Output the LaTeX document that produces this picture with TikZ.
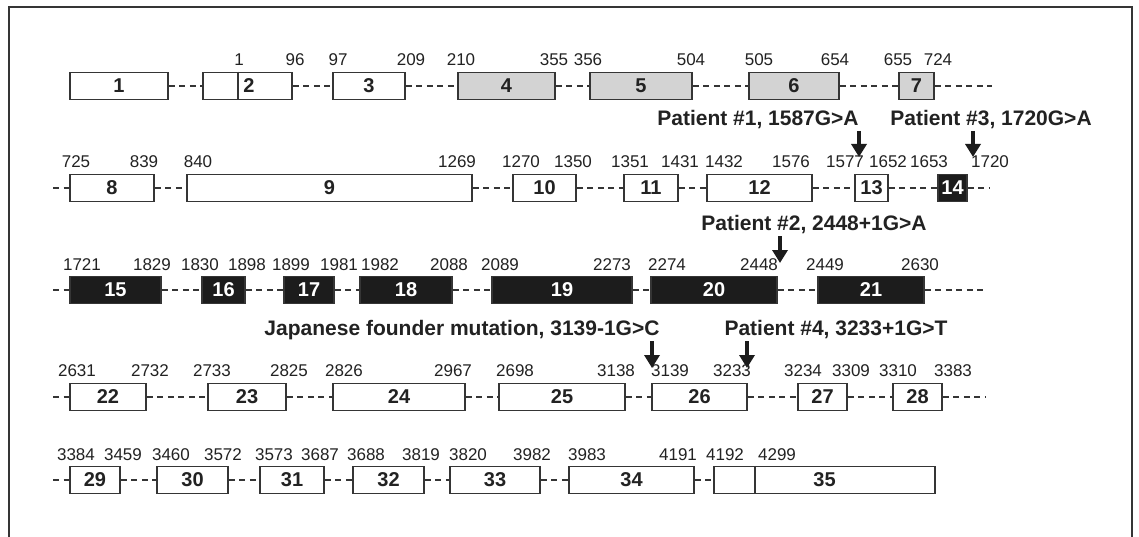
\documentclass[tikz,border=0pt]{standalone}
\usepackage{fontspec}
\setmainfont{Liberation Sans}
\usetikzlibrary{arrows.meta}
\definecolor{ink}{HTML}{222222}
\definecolor{edge}{HTML}{353535}
\definecolor{exgray}{HTML}{D3D3D3}
\definecolor{exblack}{HTML}{1C1C1C}
\newcommand{\exon}[6]{\node[#6, minimum width={#3-#2}] (#1) at ({(#2+#3)/2},#4) {#5};}
\newcommand{\pos}[4]{\node[numlab] (#1) at (#2,#3) {#4};}
\begin{document}
\begin{tikzpicture}[x=1pt,y=-1pt,
  exbase/.style={draw=edge, line width=1.5pt, rectangle, minimum height=27pt, inner sep=0pt,
     font=\bfseries\fontsize{20}{20}\selectfont},
  exwhite/.style={exbase, fill=white, text=ink},
  exgrey/.style={exbase, fill=exgray, text=ink},
  exdark/.style={exbase, fill=exblack, text=white},
  intron/.style={draw=edge, line width=1.3pt, dash pattern=on 6pt off 4.5pt},
  numlab/.style={inner sep=0pt, text=ink, font=\fontsize{17}{17}\selectfont},
  mutlab/.style={inner sep=0pt, text=ink, font=\bfseries\fontsize{21}{21}\selectfont},
  exlab/.style={inner sep=0pt, text=ink, font=\bfseries\fontsize{20}{20}\selectfont},
  mutarrow/.style={draw=exblack, line width=4.5pt, -{Triangle[width=15pt,length=13pt]}},
  frame/.style={draw=edge, line width=1.5pt}
]
\useasboundingbox (0,0) rectangle (1139,537);
\fill[white] (0,0) rectangle (1139,537);
% frame
\coordinate (f1) at (9,537);
\coordinate (f2) at (9,7);
\coordinate (f3) at (1132,7);
\coordinate (f4) at (1132,537);
\draw[frame] (f1) -- (f2) -- (f3) -- (f4);

% ---------------- Row 1 ----------------
\exon{e1}{70}{168}{86}{1}{exwhite}
\exon{e2}{203}{292}{86}{}{exwhite}
\draw[draw=edge, line width=1.7pt] (e2.north west) ++(36,0) coordinate (d2t) -- (d2t |- e2.south) coordinate (d2b);
\node[exlab] (l2) at (249,86) {2};
\exon{e3}{333}{405}{86}{3}{exwhite}
\exon{e4}{458}{555}{86}{4}{exgrey}
\exon{e5}{590}{692}{86}{5}{exgrey}
\exon{e6}{749}{839}{86}{6}{exgrey}
\exon{e7}{899}{934}{86}{7}{exgrey}
\coordinate (t1) at (992,86);
\draw[intron] (e1.east) -- (e2.west);
\draw[intron] (e2.east) -- (e3.west);
\draw[intron] (e3.east) -- (e4.west);
\draw[intron] (e4.east) -- (e5.west);
\draw[intron] (e5.east) -- (e6.west);
\draw[intron] (e6.east) -- (e7.west);
\draw[intron] (e7.east) -- (t1);
\pos{p1}{239}{60}{1}
\pos{p96}{295}{60}{96}
\pos{p97}{338}{60}{97}
\pos{p209}{411}{60}{209}
\pos{p210}{461}{60}{210}
\pos{p355}{554}{60}{355}
\pos{p356}{588}{60}{356}
\pos{p504}{691}{60}{504}
\pos{p505}{759}{60}{505}
\pos{p654}{835}{60}{654}
\pos{p655}{898}{60}{655}
\pos{p724}{938}{60}{724}

% mutations above row 2
\node[mutlab] (m1) at (758,120) {Patient \#1, 1587G>A};
\node[mutlab] (m3) at (991,120) {Patient \#3, 1720G>A};
\coordinate (a1s) at (859,131);
\coordinate (a1e) at (859,157);
\coordinate (a3s) at (973,131);
\coordinate (a3e) at (973,157);
\draw[mutarrow] (a1s) -- (a1e);
\draw[mutarrow] (a3s) -- (a3e);

% ---------------- Row 2 ----------------
\coordinate (s2) at (53,188);
\exon{e8}{70}{154}{188}{8}{exwhite}
\exon{e9}{187}{472}{188}{9}{exwhite}
\exon{e10}{513}{576}{188}{10}{exwhite}
\exon{e11}{624}{678}{188}{11}{exwhite}
\exon{e12}{707}{812}{188}{12}{exwhite}
\exon{e13}{855}{888}{188}{13}{exwhite}
\exon{e14}{938}{967}{188}{14}{exdark}
\coordinate (t2) at (990,188);
\draw[intron] (s2) -- (e8.west);
\draw[intron] (e8.east) -- (e9.west);
\draw[intron] (e9.east) -- (e10.west);
\draw[intron] (e10.east) -- (e11.west);
\draw[intron] (e11.east) -- (e12.west);
\draw[intron] (e12.east) -- (e13.west);
\draw[intron] (e13.east) -- (e14.west);
\draw[intron] (e14.east) -- (t2);
\pos{p725}{76}{162}{725}
\pos{p839}{144}{162}{839}
\pos{p840}{198}{162}{840}
\pos{p1269}{457}{162}{1269}
\pos{p1270}{521}{162}{1270}
\pos{p1350}{573}{162}{1350}
\pos{p1351}{630}{162}{1351}
\pos{p1431}{680}{162}{1431}
\pos{p1432}{724}{162}{1432}
\pos{p1576}{791}{162}{1576}
\pos{p1577}{845}{162}{1577}
\pos{p1652}{888}{162}{1652}
\pos{p1653}{929}{162}{1653}
\pos{p1720}{990}{162}{1720}

% mutation above row 3
\node[mutlab] (m2) at (814,225) {Patient \#2, 2448+1G>A};
\coordinate (a2s) at (780,236);
\coordinate (a2e) at (780,263);
\draw[mutarrow] (a2s) -- (a2e);

% ---------------- Row 3 ----------------
\coordinate (s3) at (53,290);
\exon{e15}{70}{161}{290}{15}{exdark}
\exon{e16}{202}{245}{290}{16}{exdark}
\exon{e17}{284}{334}{290}{17}{exdark}
\exon{e18}{360}{452}{290}{18}{exdark}
\exon{e19}{492}{632}{290}{19}{exdark}
\exon{e20}{651}{777}{290}{20}{exdark}
\exon{e21}{818}{924}{290}{21}{exdark}
\coordinate (t3) at (986,290);
\draw[intron] (s3) -- (e15.west);
\draw[intron] (e15.east) -- (e16.west);
\draw[intron] (e16.east) -- (e17.west);
\draw[intron] (e17.east) -- (e18.west);
\draw[intron] (e18.east) -- (e19.west);
\draw[intron] (e19.east) -- (e20.west);
\draw[intron] (e20.east) -- (e21.west);
\draw[intron] (e21.east) -- (t3);
\pos{p1721}{82}{265}{1721}
\pos{p1829}{152}{265}{1829}
\pos{p1830}{200}{265}{1830}
\pos{p1898}{247}{265}{1898}
\pos{p1899}{291}{265}{1899}
\pos{p1981}{339}{265}{1981}
\pos{p1982}{380}{265}{1982}
\pos{p2088}{449}{265}{2088}
\pos{p2089}{500}{265}{2089}
\pos{p2273}{612}{265}{2273}
\pos{p2274}{667}{265}{2274}
\pos{p2448}{759}{265}{2448}
\pos{p2449}{825}{265}{2449}
\pos{p2630}{920}{265}{2630}

% mutations above row 4
\node[mutlab] (mj) at (462,330) {Japanese founder mutation, 3139-1G>C};
\node[mutlab] (m4) at (836,330) {Patient \#4, 3233+1G>T};
\coordinate (ajs) at (652,341);
\coordinate (aje) at (652,368);
\coordinate (a4s) at (747,341);
\coordinate (a4e) at (747,368);
\draw[mutarrow] (ajs) -- (aje);
\draw[mutarrow] (a4s) -- (a4e);

% ---------------- Row 4 ----------------
\coordinate (s4) at (53,397);
\exon{e22}{70}{146}{397}{22}{exwhite}
\exon{e23}{208}{286}{397}{23}{exwhite}
\exon{e24}{333}{465}{397}{24}{exwhite}
\exon{e25}{499}{625}{397}{25}{exwhite}
\exon{e26}{652}{747}{397}{26}{exwhite}
\exon{e27}{798}{847}{397}{27}{exwhite}
\exon{e28}{893}{942}{397}{28}{exwhite}
\coordinate (t4) at (985,397);
\draw[intron] (s4) -- (e22.west);
\draw[intron] (e22.east) -- (e23.west);
\draw[intron] (e23.east) -- (e24.west);
\draw[intron] (e24.east) -- (e25.west);
\draw[intron] (e25.east) -- (e26.west);
\draw[intron] (e26.east) -- (e27.west);
\draw[intron] (e27.east) -- (e28.west);
\draw[intron] (e28.east) -- (t4);
\pos{p2631}{77}{371}{2631}
\pos{p2732}{150}{371}{2732}
\pos{p2733}{212}{371}{2733}
\pos{p2825}{289}{371}{2825}
\pos{p2826}{344}{371}{2826}
\pos{p2967}{453}{371}{2967}
\pos{p2698}{515}{371}{2698}
\pos{p3138}{616}{371}{3138}
\pos{p3139}{670}{371}{3139}
\pos{p3233}{732}{371}{3233}
\pos{p3234}{803}{371}{3234}
\pos{p3309}{851}{371}{3309}
\pos{p3310}{898}{371}{3310}
\pos{p3383}{953}{371}{3383}

% ---------------- Row 5 ----------------
\coordinate (s5) at (53,480);
\exon{e29}{70}{120}{480}{29}{exwhite}
\exon{e30}{157}{228}{480}{30}{exwhite}
\exon{e31}{260}{324}{480}{31}{exwhite}
\exon{e32}{353}{424}{480}{32}{exwhite}
\exon{e33}{450}{540}{480}{33}{exwhite}
\exon{e34}{569}{694}{480}{34}{exwhite}
\exon{e35}{714}{935}{480}{35}{exwhite}
\draw[draw=edge, line width=1.7pt] (e35.north west) ++(42,0) coordinate (d35t) -- (d35t |- e35.south) coordinate (d35b);
\draw[intron] (s5) -- (e29.west);
\draw[intron] (e29.east) -- (e30.west);
\draw[intron] (e30.east) -- (e31.west);
\draw[intron] (e31.east) -- (e32.west);
\draw[intron] (e32.east) -- (e33.west);
\draw[intron] (e33.east) -- (e34.west);
\draw[intron] (e34.east) -- (e35.west);
\pos{p3384}{76}{455}{3384}
\pos{p3459}{123}{455}{3459}
\pos{p3460}{171}{455}{3460}
\pos{p3572}{223}{455}{3572}
\pos{p3573}{274}{455}{3573}
\pos{p3687}{320}{455}{3687}
\pos{p3688}{366}{455}{3688}
\pos{p3819}{421}{455}{3819}
\pos{p3820}{468}{455}{3820}
\pos{p3982}{532}{455}{3982}
\pos{p3983}{587}{455}{3983}
\pos{p4191}{678}{455}{4191}
\pos{p4192}{725}{455}{4192}
\pos{p4299}{777}{455}{4299}
\end{tikzpicture}
\end{document}
